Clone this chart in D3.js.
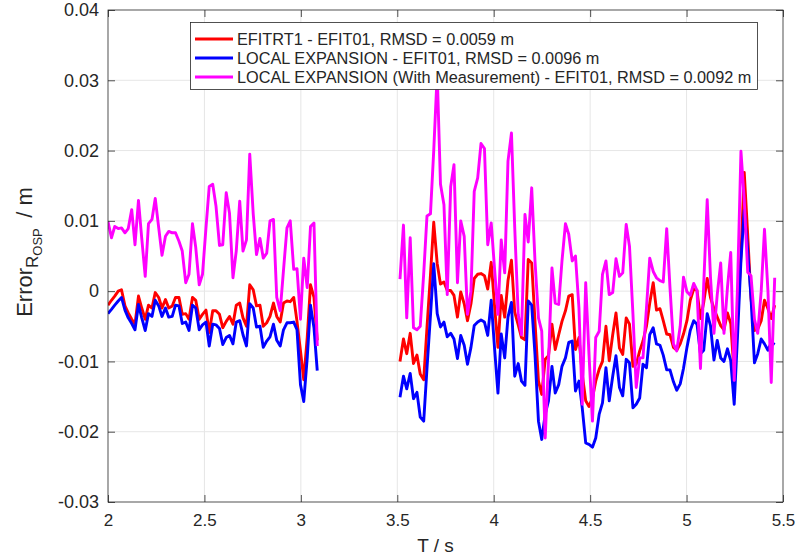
<!DOCTYPE html>
<html>
<head>
<meta charset="utf-8">
<script src="https://cdn.jsdelivr.net/npm/d3@7"></script>
<style>
  body { margin: 0; background: #fff; }
  text { font-family: "Liberation Sans", Arial, Helvetica, sans-serif; fill: #262626; }
</style>
</head>
<body>
<script>
// Time bases of the two shot windows (s)
const time1 = [2.000, 2.018, 2.035, 2.053, 2.070, 2.088, 2.105, 2.123, 2.140, 2.158, 2.175, 2.193, 2.210, 2.228, 2.245, 2.263,
  2.280, 2.298, 2.315, 2.333, 2.350, 2.368, 2.385, 2.403, 2.420, 2.438, 2.455, 2.473, 2.490, 2.508, 2.525, 2.543,
  2.560, 2.578, 2.595, 2.613, 2.630, 2.648, 2.665, 2.683, 2.700, 2.718, 2.735, 2.753, 2.770, 2.788, 2.805, 2.823,
  2.840, 2.858, 2.875, 2.893, 2.910, 2.928, 2.945, 2.963, 2.980, 2.998, 3.015, 3.033, 3.050, 3.068, 3.085];

const time2 = [3.514, 3.532, 3.549, 3.567, 3.584, 3.602, 3.619, 3.637, 3.654, 3.672, 3.689, 3.707, 3.724, 3.742, 3.759, 3.777,
  3.794, 3.812, 3.829, 3.847, 3.864, 3.882, 3.899, 3.917, 3.934, 3.952, 3.969, 3.987, 4.004, 4.022, 4.039, 4.057,
  4.074, 4.092, 4.109, 4.127, 4.144, 4.162, 4.179, 4.197, 4.214, 4.232, 4.249, 4.267, 4.284, 4.302, 4.319, 4.337,
  4.354, 4.372, 4.389, 4.407, 4.424, 4.442, 4.459, 4.477, 4.494, 4.512, 4.529, 4.547, 4.564, 4.582, 4.599, 4.617,
  4.634, 4.652, 4.669, 4.687, 4.704, 4.722, 4.739, 4.757, 4.774, 4.792, 4.809, 4.827, 4.844, 4.862, 4.879, 4.897,
  4.914, 4.932, 4.949, 4.967, 4.984, 5.002, 5.019, 5.037, 5.054, 5.072, 5.089, 5.107, 5.124, 5.142, 5.159, 5.177,
  5.194, 5.212, 5.229, 5.247, 5.264, 5.282, 5.299, 5.317, 5.334, 5.352, 5.369, 5.387, 5.404, 5.422, 5.439, 5.457];

// EFITRT1 - EFIT01
const rt1 = [-0.0020, -0.0013, -0.0007, 0.0000, 0.0002, -0.0021, -0.0031, -0.0040, -0.0047, -0.0007, -0.0024, -0.0040, -0.0020, -0.0024, -0.0002, -0.0009,
  -0.0024, -0.0012, -0.0024, -0.0021, -0.0009, -0.0009, -0.0033, -0.0032, -0.0040, -0.0009, -0.0013, -0.0040, -0.0033, -0.0027, -0.0059, -0.0028,
  -0.0028, -0.0033, -0.0052, -0.0043, -0.0036, -0.0047, -0.0020, -0.0017, -0.0038, -0.0050, 0.0009, 0.0002, -0.0021, -0.0020, -0.0050, -0.0045,
  -0.0036, -0.0017, -0.0036, -0.0044, -0.0017, -0.0014, -0.0015, -0.0009, -0.0043, -0.0085, -0.0126, -0.0066, 0.0009, -0.0009, -0.0070];
const rt2 = [-0.0100, -0.0068, -0.0089, -0.0060, -0.0103, -0.0091, -0.0118, -0.0126, -0.0052, 0.0023, 0.0098, 0.0039, 0.0010, 0.0013, 0.0001, 0.0001,
  -0.0006, -0.0037, -0.0001, -0.0018, -0.0042, -0.0018, 0.0018, 0.0024, 0.0025, 0.0022, 0.0003, 0.0041, -0.0020, -0.0080, -0.0006, -0.0037,
  0.0015, 0.0044, -0.0030, -0.0048, -0.0066, -0.0069, 0.0045, 0.0040, -0.0043, -0.0128, -0.0147, -0.0097, -0.0092, -0.0047, -0.0083, -0.0062,
  -0.0043, -0.0028, -0.0007, -0.0005, -0.0083, -0.0066, -0.0118, -0.0156, -0.0164, -0.0152, -0.0128, -0.0111, -0.0100, -0.0050, -0.0099, -0.0062,
  -0.0031, -0.0081, -0.0090, -0.0038, -0.0047, -0.0107, -0.0104, -0.0085, -0.0071, -0.0050, -0.0017, 0.0012, -0.0027, -0.0025, -0.0042, -0.0061,
  -0.0062, -0.0080, -0.0084, -0.0075, -0.0061, -0.0042, -0.0013, 0.0003, 0.0001, -0.0039, -0.0016, 0.0018, -0.0009, -0.0025, -0.0037, -0.0049,
  -0.0055, -0.0031, -0.0046, -0.0118, -0.0040, 0.0050, 0.0169, 0.0080, -0.0010, -0.0056, -0.0054, -0.0042, -0.0013, -0.0025, -0.0039, -0.0020];

// LOCAL EXPANSION - EFIT01
const loc1 = [-0.0032, -0.0026, -0.0020, -0.0014, -0.0009, -0.0027, -0.0038, -0.0046, -0.0055, -0.0019, -0.0038, -0.0056, -0.0032, -0.0036, -0.0013, -0.0021,
  -0.0036, -0.0024, -0.0037, -0.0036, -0.0020, -0.0021, -0.0046, -0.0044, -0.0056, -0.0020, -0.0024, -0.0055, -0.0048, -0.0044, -0.0078, -0.0047,
  -0.0048, -0.0053, -0.0076, -0.0066, -0.0063, -0.0075, -0.0044, -0.0042, -0.0062, -0.0078, -0.0018, -0.0024, -0.0051, -0.0050, -0.0080, -0.0071,
  -0.0065, -0.0047, -0.0070, -0.0078, -0.0055, -0.0045, -0.0045, -0.0044, -0.0055, -0.0133, -0.0157, -0.0095, -0.0020, -0.0052, -0.0113];
const loc2 = [-0.0151, -0.0121, -0.0139, -0.0117, -0.0153, -0.0144, -0.0179, -0.0185, -0.0110, -0.0035, 0.0039, -0.0032, -0.0051, -0.0044, -0.0065, -0.0060,
  -0.0068, -0.0096, -0.0063, -0.0077, -0.0104, -0.0080, -0.0049, -0.0044, -0.0041, -0.0044, -0.0063, -0.0013, -0.0080, -0.0145, -0.0061, -0.0095,
  -0.0037, -0.0016, -0.0121, -0.0103, -0.0128, -0.0134, -0.0014, -0.0020, -0.0090, -0.0185, -0.0211, -0.0175, -0.0156, -0.0107, -0.0145, -0.0133,
  -0.0107, -0.0095, -0.0073, -0.0071, -0.0142, -0.0128, -0.0166, -0.0216, -0.0218, -0.0222, -0.0209, -0.0175, -0.0159, -0.0109, -0.0156, -0.0121,
  -0.0092, -0.0137, -0.0149, -0.0097, -0.0102, -0.0166, -0.0161, -0.0152, -0.0104, -0.0109, -0.0062, -0.0052, -0.0075, -0.0077, -0.0091, -0.0112,
  -0.0112, -0.0129, -0.0141, -0.0132, -0.0110, -0.0080, -0.0056, -0.0042, -0.0047, -0.0089, -0.0084, -0.0032, -0.0049, -0.0098, -0.0070, -0.0095,
  -0.0100, -0.0082, -0.0099, -0.0161, -0.0065, 0.0044, 0.0115, 0.0058, -0.0009, -0.0102, -0.0089, -0.0068, -0.0075, -0.0084, -0.0073, -0.0076];

// LOCAL EXPANSION (With Measurement) - EFIT01
const meas1 = [0.0099, 0.0076, 0.0092, 0.0089, 0.0090, 0.0083, 0.0089, 0.0116, 0.0066, 0.0129, 0.0075, 0.0021, 0.0096, 0.0102, 0.0132, 0.0090,
  0.0051, 0.0078, 0.0085, 0.0083, 0.0083, 0.0071, 0.0057, 0.0012, 0.0024, 0.0096, 0.0062, 0.0009, 0.0024, 0.0090, 0.0149, 0.0152,
  0.0121, 0.0065, 0.0066, 0.0140, 0.0111, 0.0019, 0.0057, 0.0128, 0.0057, 0.0073, 0.0195, 0.0110, 0.0052, 0.0075, 0.0047, 0.0054,
  0.0100, 0.0102, -0.0009, -0.0028, 0.0030, 0.0090, 0.0100, 0.0031, 0.0032, -0.0040, 0.0047, 0.0005, 0.0092, 0.0097, -0.0078];
const meas2 = [0.0017, 0.0094, -0.0038, 0.0076, -0.0052, -0.0055, -0.0050, 0.0025, 0.0107, 0.0110, 0.0200, 0.0310, 0.0152, 0.0123, -0.0005, 0.0149,
  0.0180, 0.0012, 0.0100, 0.0078, -0.0033, 0.0000, 0.0142, 0.0161, 0.0210, 0.0203, 0.0066, 0.0097, 0.0033, -0.0033, 0.0073, 0.0026,
  0.0185, 0.0225, 0.0090, -0.0033, -0.0062, 0.0109, 0.0070, 0.0147, 0.0043, -0.0038, -0.0057, -0.0209, -0.0100, 0.0033, -0.0017, -0.0019,
  0.0043, 0.0096, 0.0081, 0.0043, 0.0050, -0.0024, -0.0161, 0.0012, -0.0090, -0.0185, -0.0066, -0.0057, 0.0024, 0.0043, -0.0005, -0.0002,
  0.0046, 0.0021, 0.0026, 0.0095, 0.0064, -0.0033, -0.0137, -0.0095, -0.0095, -0.0024, 0.0047, 0.0028, 0.0019, 0.0015, 0.0013, 0.0089,
  0.0005, -0.0075, -0.0085, -0.0050, 0.0020, -0.0001, -0.0006, 0.0011, 0.0001, -0.0110, 0.0010, 0.0130, 0.0020, -0.0060, -0.0005, 0.0040,
  -0.0060, 0.0005, 0.0055, -0.0127, 0.0005, 0.0199, 0.0130, 0.0027, 0.0022, -0.0040, -0.0060, 0.0000, 0.0088, 0.0000, -0.0130, 0.0019];

const xTicks = [2, 2.5, 3, 3.5, 4, 4.5, 5, 5.5];
const yTicks = [-0.03, -0.02, -0.01, 0, 0.01, 0.02, 0.03, 0.04];

const series = [
  { name: "EFITRT1 - EFIT01, RMSD = 0.0059 m", color: "#ff0000", parts: [[time1, rt1], [time2, rt2]] },
  { name: "LOCAL EXPANSION - EFIT01, RMSD = 0.0096 m", color: "#0000ff", parts: [[time1, loc1], [time2, loc2]] },
  { name: "LOCAL EXPANSION (With Measurement) - EFIT01, RMSD = 0.0092 m", color: "#ff00ff", parts: [[time1, meas1], [time2, meas2]] }
];

const width = 795, height = 559;
const mLeft = 108, mRight = 783, mTop = 10, mBottom = 502;

const svg = d3.select("body").append("svg")
  .attr("width", width)
  .attr("height", height);

const x = d3.scaleLinear().domain([2, 5.5]).range([mLeft, mRight]);
const y = d3.scaleLinear().domain([-0.03, 0.04]).range([mBottom, mTop]);

// grid
svg.append("g").selectAll("line").data(xTicks.slice(1, -1)).enter().append("line")
  .attr("x1", d => x(d)).attr("x2", d => x(d)).attr("y1", mTop).attr("y2", mBottom)
  .attr("stroke", "#e6e6e6").attr("stroke-width", 1);
svg.append("g").selectAll("line").data(yTicks.slice(1, -1)).enter().append("line")
  .attr("x1", mLeft).attr("x2", mRight).attr("y1", d => y(d)).attr("y2", d => y(d))
  .attr("stroke", "#e6e6e6").attr("stroke-width", 1);

svg.append("clipPath").attr("id", "plot")
  .append("rect").attr("x", mLeft).attr("y", mTop).attr("width", mRight - mLeft).attr("height", mBottom - mTop);

const line = d3.line().x(d => x(d[0])).y(d => y(d[1]));

const lines = svg.append("g").attr("clip-path", "url(#plot)");
series.forEach(s => {
  s.parts.forEach(([t, v]) => {
    lines.append("path")
      .attr("d", line(t.map((tt, i) => [tt, v[i]])))
      .attr("fill", "none")
      .attr("stroke", s.color)
      .attr("stroke-width", 2.9)
      .attr("stroke-linejoin", "round");
  });
});

// axes, ticks pointing inwards on all four sides
const tick = 7;
const fmtY = d => d === 0 ? "0" : d3.format(".2f")(d).replace("\u2212", "-");
svg.append("g").attr("transform", `translate(0,${mBottom})`)
  .call(d3.axisBottom(x).tickValues(xTicks).tickSize(-tick).tickPadding(12).tickFormat(d3.format("")))
  .call(g => g.select(".domain").remove())
  .call(g => g.selectAll("text").style("font-size", "17px"));
svg.append("g").attr("transform", `translate(0,${mTop})`)
  .call(d3.axisTop(x).tickValues(xTicks).tickSize(-tick).tickFormat(""))
  .call(g => g.select(".domain").remove());
svg.append("g").attr("transform", `translate(${mLeft},0)`)
  .call(d3.axisLeft(y).tickValues(yTicks).tickSize(-tick).tickPadding(9).tickFormat(fmtY))
  .call(g => g.select(".domain").remove())
  .call(g => g.selectAll("text").style("font-size", "18px"));
svg.append("g").attr("transform", `translate(${mRight},0)`)
  .call(d3.axisRight(y).tickValues(yTicks).tickSize(-tick).tickFormat(""))
  .call(g => g.select(".domain").remove());

svg.selectAll(".tick line").attr("stroke", "#262626").attr("stroke-width", 0.8);
svg.selectAll(".tick text").attr("fill", "#262626")
  .style("font-family", "'Liberation Sans', Arial, sans-serif");

svg.append("rect")
  .attr("x", mLeft).attr("y", mTop).attr("width", mRight - mLeft).attr("height", mBottom - mTop)
  .attr("fill", "none").attr("stroke", "#262626").attr("stroke-width", 0.8);

// axis labels
svg.append("text")
  .attr("x", (mLeft + mRight) / 2 - 10).attr("y", 552)
  .attr("text-anchor", "middle")
  .style("font-size", "19px")
  .text("T / s");

const yl = svg.append("text")
  .attr("transform", "translate(32,252) rotate(-90)")
  .attr("text-anchor", "middle")
  .style("font-size", "22px");
yl.append("tspan").text("Error");
yl.append("tspan").attr("dy", 6).style("font-size", "17px").text("R");
yl.append("tspan").attr("dy", 4).style("font-size", "13px").text("OSP");
yl.append("tspan").attr("dy", -10).style("font-size", "22px").text("\u2009 / m");

// legend
const lg = svg.append("g");
lg.append("rect")
  .attr("x", 190.5).attr("y", 22.5).attr("width", 567).attr("height", 67)
  .attr("fill", "#fff").attr("stroke", "#262626").attr("stroke-width", 0.8);
series.forEach((s, i) => {
  const cy = 39 + i * 19;
  lg.append("line")
    .attr("x1", 195).attr("x2", 233).attr("y1", cy).attr("y2", cy)
    .attr("stroke", s.color).attr("stroke-width", 2.9);
  lg.append("text")
    .attr("x", 237).attr("y", cy + 5.8)
    .style("font-size", "16.3px")
    .text(s.name);
});
</script>
</body>
</html>
